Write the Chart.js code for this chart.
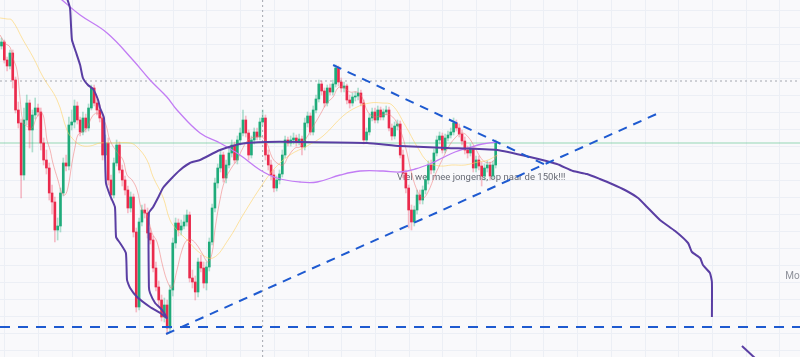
<!DOCTYPE html>
<html><head><meta charset="utf-8">
<script src="https://cdn.jsdelivr.net/npm/chart.js@4.4.1/dist/chart.umd.min.js"></script>
<style>html,body{margin:0;padding:0;background:#f9f9fb;overflow:hidden}canvas{display:block}</style>
</head><body>
<canvas id="c" width="800" height="357"></canvas>
<script>
// ---- candle data (weekly candles, index 0..176) ----
const opens = [314,318,300,294,307,280,250,237,185,240,257,230,245,252,248,217,200,192,167,158,130,134,167,197,194,235,238,254,240,228,242,232,252,272,257,250,242,205,217,180,165,197,215,190,180,170,152,163,128,53,138,150,147,127,120,92,73,60,43,55,32,70,117,137,130,134,138,145,82,78,68,98,92,77,93,118,152,177,192,205,182,195,207,215,200,220,227,240,227,205,220,228,223,238,242,205,195,185,172,180,186,205,220,217,220,222,218,221,213,237,244,228,250,261,276,269,257,272,268,276,292,278,272,274,260,257,263,264,267,257,220,228,242,248,240,250,243,248,250,232,224,234,236,205,187,172,150,138,150,165,160,170,180,195,190,207,220,224,210,222,225,228,237,232,226,219,210,207,211,192,200,194,184,192,195,184,195];
const closes = [318,300,294,307,280,250,237,185,240,257,230,245,252,248,217,200,192,167,158,130,134,167,197,194,235,238,254,240,228,242,232,252,272,257,250,242,205,217,180,165,197,215,190,180,170,152,163,128,53,138,150,147,127,120,92,73,60,43,55,32,70,117,137,130,134,138,145,82,78,68,98,92,77,93,118,152,177,192,205,182,195,207,215,200,220,227,240,227,205,220,228,223,238,242,205,195,185,172,180,186,205,220,217,220,222,218,221,213,237,244,228,250,261,276,269,257,272,268,276,292,278,272,274,260,257,263,264,267,257,220,228,242,248,240,250,243,248,250,232,224,234,236,205,187,172,150,138,150,165,160,170,180,195,190,207,220,224,210,222,225,228,237,232,226,219,210,207,211,192,200,194,184,192,195,184,195,217];
const highs = [322,320,303,310,310,283,258,241,252,265,260,250,262,256,252,222,210,197,175,163,142,172,202,205,243,250,260,258,243,248,246,256,275,275,261,255,246,225,222,185,202,220,218,195,184,174,168,166,132,142,155,156,152,132,124,98,79,65,62,60,75,122,142,141,140,145,150,148,90,84,102,105,98,98,122,156,182,196,210,208,200,212,220,218,224,232,250,244,230,224,232,232,242,250,245,210,200,190,184,190,210,224,223,224,227,225,226,224,242,248,247,254,265,280,279,272,275,276,280,295,294,282,278,276,265,267,268,272,270,260,232,246,252,252,254,253,251,254,253,236,238,240,239,210,190,175,155,154,170,170,174,184,199,200,211,224,228,227,226,229,232,242,240,236,230,223,214,216,214,204,204,198,196,199,198,199,220];
const lows = [311,297,289,291,272,247,232,162,180,235,212,208,241,244,210,195,186,160,146,118,120,128,164,189,190,230,232,236,224,225,228,229,250,254,245,238,200,202,175,160,162,194,187,174,165,147,148,123,48,50,134,142,122,116,88,69,54,39,38,26,28,64,112,124,125,131,134,78,72,60,63,88,72,70,89,115,148,172,188,178,177,192,203,197,196,215,224,223,200,202,216,220,220,235,200,190,180,168,169,176,183,202,214,214,216,214,215,205,210,233,225,225,247,258,265,253,254,265,265,273,274,268,268,256,252,254,259,260,254,216,217,225,239,237,237,240,240,245,229,220,221,230,202,182,167,132,130,134,146,156,156,166,176,186,187,204,216,207,207,219,222,225,229,223,215,206,202,204,188,188,190,174,180,188,180,181,192];

// ---- indicator lines (x = candle index, y = price) ----
const fastMaX = [-0.5,1.2,3.0,4.1,5.5,6.6,7.7,9.4,10.9,12.6,14.4,15.5,16.2,17.3,18.3,20.1,21.5,22.6,23.7,25.1,26.2,27.2,28.7,30.4,32.2,34.0,35.8,37.2,38.6,41.1,43.3,44.7,46.5,48.3,50.0,51.8,53.6,55.4,57.5,59.3,60.7,62.5,64.3,66.1,67.8,69.6,71.4,73.5,75.0,76.0,77.8,79.6,82.1,83.9,85.6,87.8,90.3,92.8,94.5,96.3,98.1,100.3,102.0,104.5,106.3,108.8,110.9,113.4,115.9,118.1,119.8,121.6,124.1,126.6,128.4,130.5,133.0,135.5,138.4,141.2,143.7,146.2,148.3,150.1,151.9,154.4,156.9,159.0,161.5,164.0,166.2,168.7,170.5,172.2,174.7,176.5];
const fastMaY = [325,317,313,302,290,262,238,233,232,243,247,235,220,210,197,180,167,165,173,197,213,225,228,232,243,247,242,235,220,208,200,185,180,170,150,145,127,118,93,77,72,90,110,120,120,115,107,98,107,130,160,180,193,200,210,220,223,223,217,203,197,195,203,212,213,223,233,245,257,263,272,273,268,268,263,248,243,245,245,235,215,185,168,162,168,185,200,212,222,227,223,212,203,198,198,205];
const midMaX = [-0.5,2.0,3.7,7.7,11.2,14.8,19.8,23.3,25.1,28.0,31.5,35.1,39.7,45.8,48.3,51.8,54.0,57.5,60.0,62.5,66.1,70.7,75.3,80.7,86.0,92.8,97.4,102.7,108.8,114.5,121.6,126.6,131.2,135.5,139.1,143.7,148.3,151.9,156.2,160.4,165.1,169.7,173.3,176.5];
const midMaY = [342,341,340,320,303,283,260,230,222,215,214,217,217,217,213,200,183,163,140,130,120,107,102,120,145,175,192,205,214,224,244,253,257,257,255,235,212,198,194,195,195,198,200,205];
const slowMaX = [20.7,28.0,37.6,46.8,52.9,58.9,62.5,70.7,77.8,84.9,92.1,98.1,106.3,112.4,120.6,127.7,135.9,141.9,147.3,153.3,156.9,161.5,166.2,171.2,176.5];
const slowMaY = [362,345,327,300,280,263,250,227,217,205,190,182,178,178,185,189,189,188,191,197,202,208,212,216,218];
const curveX = [23.3,24.4,24.75,25.1,26.5,28.0,29.0,30.8,32.6,34.4,35.1,36.5,36.9,37.2,38.6,40.4,40.8,42.2,44.3,44.7,45.8,48.3,52.9,56.5,58.9,57.2,54.7,52.9,52.5,52.5,54.0,55.7,57.5,60.0,63.6,67.1,70.7,77.8,84.9,94.6,106.3,130.2,141.9,158.7,176.5,188.2,197.8,203.5,208.5,213.1,217.4,222.0,226.7,229.9,234.5,239.9,244.5,245.9,248.8,249.8,252.3,253.0,253.0];
const curveY = [362,352,335,320,308,295,282,275,271,260,252,242,203,177,165,153,123,117,107,80,72,63,53,47,42,50,57,67,73,147,153,162,172,180,190,197,200,210,216,218,218,217,214,212,210,203,196,189,186,181,176,170,162,153,140,129,117,108,102,95,87,78,43];
const curveTailX = [263.7,268.7];
const curveTailY = [14,1];

// ---- drawings ----
const supportLevel = 33;      // bottom dashed level
const riseX = [58.6,234.9], riseY = [26,248];
const fallX = [118.1,195.3], fallY = [295,193];
const greenLevel = 217;
const grayLevel = 279;
const markerIndex = 93;
const note = {x: 140.85, y: 182, text: 'Viel wel mee jongens, op naar de 150k!!!'};
const note2 = {x: 279.1, y: 84, text: 'Mor'};

const X_MIN = -0.534, X_MAX = 284.37, Y_MIN = 3, Y_MAX = 360;
const GRID_X_START = 1, GRID_X_STEP = 12, GRID_Y_START = 10, GRID_Y_STEP = 17.02;

const UP = '#1fab7a', DOWN = '#ea2a4c';
const UP_W = 'rgba(31,171,122,0.35)', DOWN_W = 'rgba(234,42,76,0.3)';
const BLUE = '#1e5ad0';

const idx = closes.map((_, i) => i);
const isUp = i => closes[i] >= opens[i];
const pts = (xs, ys) => xs.map((x, i) => ({x, y: ys[i]}));

const bgPlugin = {
  id: 'bg',
  beforeDraw(chart) {
    const {ctx, width, height} = chart;
    ctx.save(); ctx.fillStyle = '#f9f9fb'; ctx.fillRect(0, 0, width, height); ctx.restore();
  },
  beforeDatasetsDraw(chart) {
    const {ctx, chartArea: a, scales: {x, y}} = chart;
    ctx.save();
    ctx.strokeStyle = '#eceff5'; ctx.lineWidth = 1;
    for (let v = GRID_X_START; v <= X_MAX; v += GRID_X_STEP) {
      const px = Math.round(x.getPixelForValue(v)) + 0.5;
      ctx.beginPath(); ctx.moveTo(px, a.top); ctx.lineTo(px, a.bottom); ctx.stroke();
    }
    for (let v = GRID_Y_START; v <= Y_MAX; v += GRID_Y_STEP) {
      const py = Math.round(y.getPixelForValue(v)) + 0.5;
      ctx.beginPath(); ctx.moveTo(a.left, py); ctx.lineTo(a.right, py); ctx.stroke();
    }
    ctx.textBaseline = 'middle'; ctx.textAlign = 'left';
    ctx.font = '9.5px Roboto, "Liberation Sans", sans-serif';
    ctx.fillStyle = '#676a74';
    ctx.fillText(note.text, x.getPixelForValue(note.x), y.getPixelForValue(note.y));
    ctx.font = '10px Roboto, "Liberation Sans", sans-serif';
    ctx.fillStyle = '#8e919a';
    ctx.fillText(note2.text, x.getPixelForValue(note2.x), y.getPixelForValue(note2.y));
    ctx.restore();
  }
};

new Chart(document.getElementById('c'), {
  type: 'bar',
  data: {
    datasets: [
      {type: 'line', data: [{x: X_MIN, y: greenLevel}, {x: X_MAX, y: greenLevel}], borderColor: 'rgba(90,195,140,0.42)', borderWidth: 1.6, pointRadius: 0, order: 40},
      {type: 'line', data: [{x: X_MIN, y: grayLevel}, {x: X_MAX, y: grayLevel}], borderColor: '#a3a6ae', borderWidth: 1, borderDash: [2, 3], pointRadius: 0, order: 40},
      {type: 'line', data: [{x: markerIndex, y: Y_MIN}, {x: markerIndex, y: Y_MAX}], borderColor: '#a3a6ae', borderWidth: 1, borderDash: [2, 3], pointRadius: 0, order: 40},
      {data: idx.map(i => ({x: i, y: [lows[i], highs[i]]})), backgroundColor: c => isUp(c.dataIndex) ? UP_W : DOWN_W, barThickness: 1, grouped: false, order: 30},
      {data: idx.map(i => ({x: i, y: [opens[i], closes[i]]})), backgroundColor: c => isUp(c.dataIndex) ? UP : DOWN, barThickness: 2, minBarLength: 1, grouped: false, order: 29},
      {type: 'line', data: pts(midMaX, midMaY), borderColor: 'rgba(255,210,100,0.6)', borderWidth: 1, pointRadius: 0, tension: 0.4, order: 10},
      {type: 'line', data: pts(fastMaX, fastMaY), borderColor: 'rgba(240,110,110,0.5)', borderWidth: 1, pointRadius: 0, tension: 0.4, order: 9},
      {type: 'line', data: pts(slowMaX, slowMaY), borderColor: '#c27cf4', borderWidth: 1.3, pointRadius: 0, tension: 0.4, order: 8},
      {type: 'line', data: pts(curveX, curveY), borderColor: '#5a3ea3', borderWidth: 2, pointRadius: 0, tension: 0.15, order: 7},
      {type: 'line', data: pts(curveTailX, curveTailY), borderColor: '#5a3ea3', borderWidth: 2, pointRadius: 0, order: 7},
      {type: 'line', data: [{x: X_MIN, y: supportLevel}, {x: X_MAX, y: supportLevel}], borderColor: BLUE, borderWidth: 2, borderDash: [10, 8], pointRadius: 0, order: 5},
      {type: 'line', data: pts(riseX, riseY), borderColor: BLUE, borderWidth: 2, borderDash: [9, 7], pointRadius: 0, order: 5},
      {type: 'line', data: pts(fallX, fallY), borderColor: BLUE, borderWidth: 2, borderDash: [9, 7], pointRadius: 0, order: 5}
    ]
  },
  options: {
    responsive: false, animation: false, devicePixelRatio: 1, events: [],
    layout: {padding: 0},
    plugins: {legend: {display: false}, tooltip: {enabled: false}},
    scales: {
      x: {type: 'linear', min: X_MIN, max: X_MAX, offset: false, display: false},
      y: {type: 'linear', min: Y_MIN, max: Y_MAX, display: false}
    }
  },
  plugins: [bgPlugin]
});
</script>
</body></html>
